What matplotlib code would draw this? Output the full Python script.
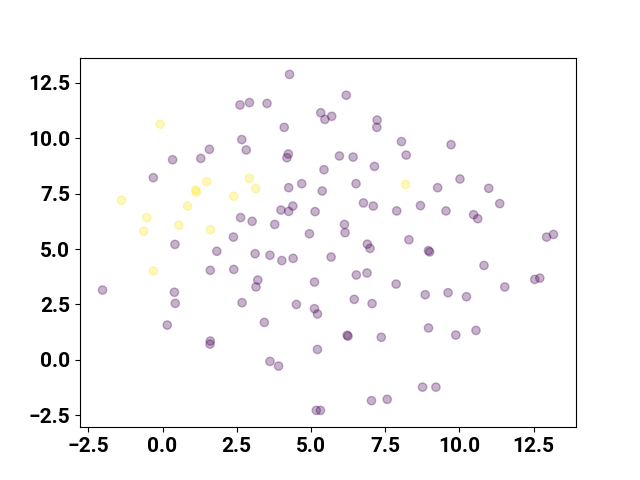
import matplotlib
matplotlib.use("Agg")
import matplotlib.pyplot as plt
from matplotlib.ticker import MultipleLocator
import numpy as np

plt.rcParams['font.family'] = ['Roboto', 'DejaVu Sans']
plt.rcParams['font.weight'] = 'bold'
plt.rcParams['font.size'] = 15

purple_x = [2.61, 2.93, 2.67, 2.82, 1.58, 0.34, 1.29, -0.31, 2.63, 3.02, 2.39, 0.42, 1.83, 1.61, 2.40,
            -2.02, 0.40, 0.43, 2.68, 0.16, 1.61, 1.60, 4.28, 3.52, 6.19, 5.33, 5.47, 5.70, 7.23, 7.22,
            4.10, 8.05, 8.21, 4.24, 4.19, 5.96, 6.42, 7.14, 5.44, 4.25, 4.69, 6.52, 5.38, 6.77, 7.10,
            7.89, 3.99, 4.25, 4.39, 5.14, 3.78, 6.13, 6.15, 4.95, 6.90, 6.99, 8.30, 3.12, 3.62, 4.02,
            4.40, 5.68, 3.21, 3.15, 5.12, 6.53, 6.89, 7.87, 4.51, 5.12, 5.22, 6.46, 7.06, 3.43, 6.22,
            6.25, 7.37, 5.22, 3.62, 3.91, 7.04, 7.57, 5.18, 5.32, 9.72, 10.02, 9.27, 10.99, 11.36, 8.69,
            9.55, 10.48, 10.62, 12.94, 13.17, 8.96, 9.00, 10.83, 8.85, 9.62, 10.24, 11.53, 12.54, 12.71,
            8.96, 9.88, 10.56, 8.76, 9.21]
purple_y = [11.50, 11.61, 9.94, 9.47, 9.50, 9.03, 9.09, 8.22, 6.42, 6.25, 5.54, 5.21, 4.90, 4.04, 4.08,
            3.15, 3.05, 2.55, 2.58, 1.57, 0.85, 0.71, 12.88, 11.57, 11.94, 11.15, 10.85, 10.99, 10.82, 10.49,
            10.49, 9.85, 9.24, 9.29, 9.12, 9.20, 9.15, 8.73, 8.58, 7.77, 7.95, 7.95, 7.62, 7.08, 6.94,
            6.72, 6.76, 6.70, 6.94, 6.69, 6.11, 6.11, 5.74, 5.69, 5.22, 5.03, 5.42, 4.79, 4.72, 4.48,
            4.58, 4.64, 3.60, 3.29, 3.51, 3.83, 3.92, 3.42, 2.50, 2.31, 2.07, 2.73, 2.54, 1.69, 1.11,
            1.07, 1.02, 0.47, -0.07, -0.28, -1.84, -1.78, -2.28, -2.28, 9.71, 8.16, 7.77, 7.74, 7.05, 6.96,
            6.72, 6.55, 6.37, 5.54, 5.66, 4.93, 4.87, 4.26, 2.94, 3.03, 2.85, 3.29, 3.63, 3.69,
            1.44, 1.12, 1.33, -1.23, -1.23]

yellow_x = [-0.08, 2.92, 1.49, 1.12, 1.14, 2.40, -1.38, 0.84, -0.53, 0.55, -0.63, 1.62, 3.14, 8.19, -0.31]
yellow_y = [10.63, 8.19, 8.04, 7.66, 7.57, 7.38, 7.20, 6.94, 6.42, 6.08, 5.81, 5.87, 7.73, 7.92, 4.01]

x = np.array(purple_x + yellow_x)
y = np.array(purple_y + yellow_y)
labels = np.array([0] * len(purple_x) + [1] * len(yellow_x))

fig, ax = plt.subplots(figsize=(6.4, 4.8), dpi=100)
ax.scatter(x, y, c=labels, cmap='viridis', alpha=0.3)
ax.xaxis.set_major_locator(MultipleLocator(2.5))
ax.yaxis.set_major_locator(MultipleLocator(2.5))
fig.savefig("out.png")
